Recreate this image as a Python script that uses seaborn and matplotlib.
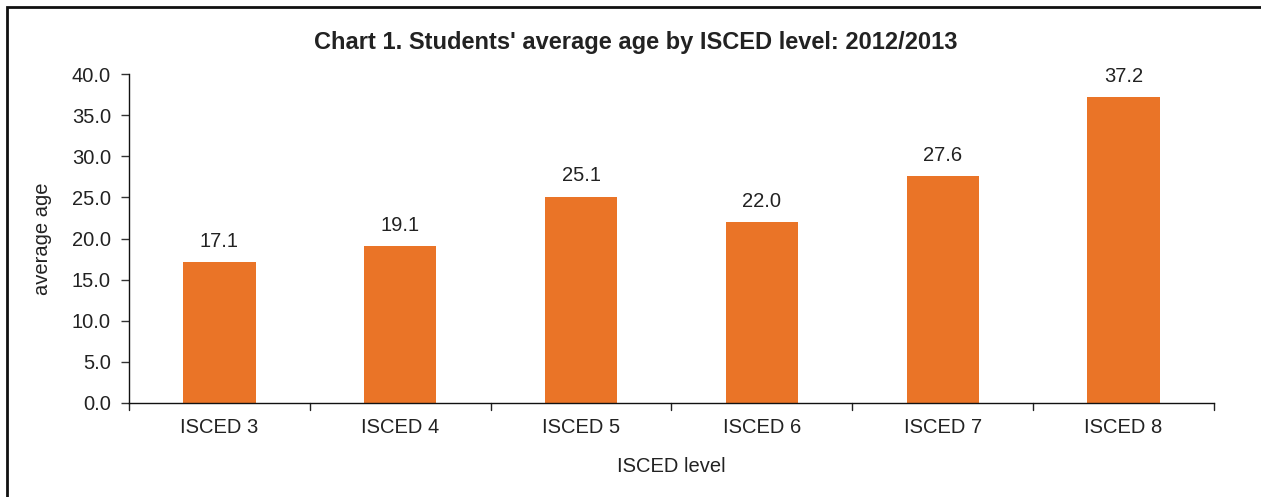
import matplotlib
matplotlib.use("Agg")
import matplotlib.pyplot as plt
import seaborn as sns
import pandas as pd
from matplotlib.patches import Rectangle

categories = ["ISCED 3", "ISCED 4", "ISCED 5", "ISCED 6", "ISCED 7", "ISCED 8"]
values = [17.1, 19.1, 25.1, 22.0, 27.6, 37.2]
yticks = [0, 5, 10, 15, 20, 25, 30, 35, 40]

sns.set_style("white")
plt.rcParams['font.family'] = ['Liberation Sans', 'DejaVu Sans']

df = pd.DataFrame({"level": categories, "age": values})
FS = 14.5
TC = "#222222"

fig = plt.figure(figsize=(12.61, 4.97), dpi=100)
ax = fig.add_axes([129/1261, 1-403/497, (1214-129)/1261, (403-74)/497])

sns.barplot(data=df, x="level", y="age", color="#EA7427", width=0.4,
            saturation=1, ax=ax, edgecolor="none")

ax.set_ylim(0, 40)
ax.set_xlim(-0.5, len(categories)-0.5)
ax.set_yticks(yticks)
ax.set_yticklabels([f"{v:.1f}" for v in yticks], fontsize=FS, color=TC)
ax.set_xticks(range(len(categories)))
ax.set_xticklabels(categories, fontsize=FS, color=TC)
ax.tick_params(axis="x", length=0, pad=11)
ax.tick_params(axis="y", length=6, width=1, color="#333333", direction="out", pad=7, left=True)
# category boundary ticks
for b in [i - 0.5 for i in range(len(categories)+1)]:
    ax.plot([b, b], [0, -0.02], transform=ax.get_xaxis_transform(), color="#222222",
            lw=1, clip_on=False)

for s in ["top", "right"]:
    ax.spines[s].set_visible(False)
for s in ["left", "bottom"]:
    ax.spines[s].set_color("#111111")
    ax.spines[s].set_linewidth(1)

for i, v in enumerate(values):
    ax.text(i, v + 2.5, f"{v:.1f}", ha="center", va="center", fontsize=FS, color=TC)

ax.set_xlabel("ISCED level", fontsize=FS, color=TC, labelpad=14)
ax.set_ylabel("average age", fontsize=FS, color=TC, labelpad=14)

fig.text(636/1261, 1-42/497, "Chart 1. Students' average age by ISCED level: 2012/2013",
         ha="center", va="center", fontsize=17, fontweight="bold", color=TC)

fig.patches.append(Rectangle((7/1261, -0.1), 1.2, 1-7/497+0.1, transform=fig.transFigure,
                             fill=False, edgecolor="#111111", lw=2))

fig.savefig("out.png", dpi=100)
